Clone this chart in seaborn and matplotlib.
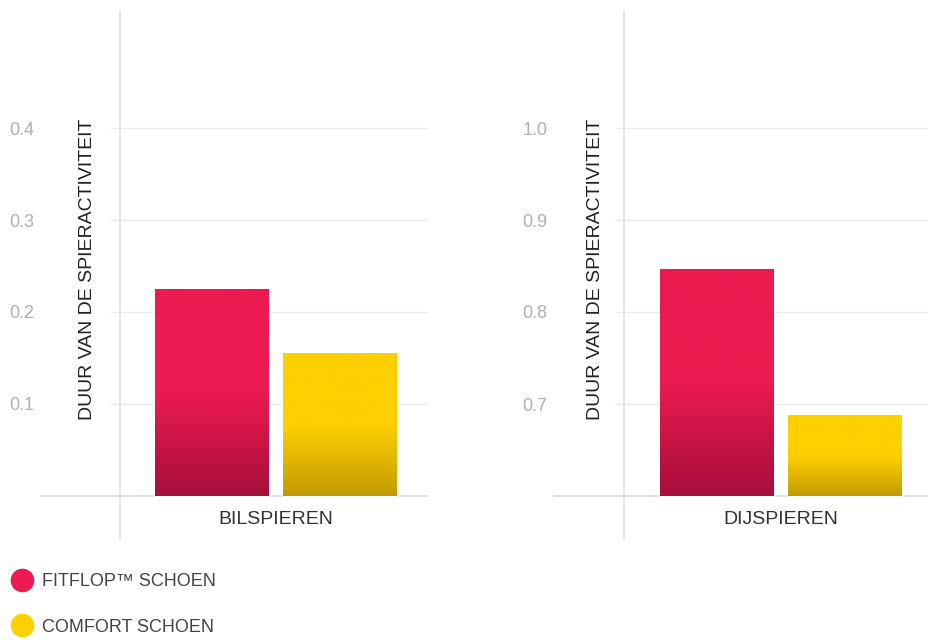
import numpy as np
import pandas as pd
import matplotlib
matplotlib.use("Agg")
import matplotlib.pyplot as plt
import seaborn as sns
from matplotlib.colors import to_rgb
from matplotlib.lines import Line2D

# ---------------- data ----------------
groups = ["BILSPIEREN", "DIJSPIEREN"]
series = ["FITFLOP™ SCHOEN", "COMFORT SCHOEN"]
fitflop_values = [0.225, 0.846]
comfort_values = [0.155, 0.688]
yticks_per_group = [[0.1, 0.2, 0.3, 0.4], [0.7, 0.8, 0.9, 1.0]]
baselines = [0.0, 0.6]
ylabel_text = "DUUR VAN DE SPIERACTIVITEIT"

# ---------------- style ----------------
colors = ["#EC1A50", "#FDD000"]
dark_colors = ["#A50F3C", "#C39B00"]

sns.set_theme(style="white")
plt.rcParams["font.family"] = ["Liberation Sans", "DejaVu Sans"]

W, H = 930, 640
fig = plt.figure(figsize=(W / 100, H / 100), dpi=100)

top_px, bot_px, base_px = 10, 540, 496
step_px = 92.0      # pixels per 0.1
unit_px = 320.0     # pixels per category unit
panels = [
    dict(left=40, right=428, center=276, vline=120, grid_start=110, ylab_x=88),
    dict(left=553, right=928, center=781, vline=624, grid_start=615, ylab_x=595),
]


def gradient_fill(ax, patch, c_top, c_bot, frac=0.5):
    x0, y0 = patch.get_x(), patch.get_y()
    w, h = patch.get_width(), patch.get_height()
    n = 256
    t = np.linspace(0, 1, n)  # 0 = top, 1 = bottom
    s = np.clip((t - (1 - frac)) / frac, 0, 1)
    a = np.array(to_rgb(c_top))
    b = np.array(to_rgb(c_bot))
    img = a[None, :] * (1 - s[:, None]) + b[None, :] * s[:, None]
    ax.imshow(img[:, None, :], extent=[x0, x0 + w, y0, y0 + h], origin="upper",
              aspect="auto", zorder=patch.get_zorder() + 0.1,
              interpolation="bilinear")


for i, p in enumerate(panels):
    base = baselines[i]
    ax = fig.add_axes([p["left"] / W, 1 - bot_px / H,
                       (p["right"] - p["left"]) / W, (bot_px - top_px) / H])
    df = pd.DataFrame({
        "group": [groups[i]] * 2,
        "series": series,
        "value": [fitflop_values[i], comfort_values[i]],
    })
    sns.barplot(data=df, x="group", y="value", hue="series", hue_order=series,
                palette=colors, width=0.8, gap=0.11, ax=ax, legend=False,
                saturation=1, zorder=2)

    xlim = ((p["left"] - p["center"]) / unit_px, (p["right"] - p["center"]) / unit_px)
    ylim = (base - (bot_px - base_px) / step_px * 0.1,
            base + (base_px - top_px) / step_px * 0.1)

    # bars start at the panel baseline, with vertical gradient
    for j, patch in enumerate(ax.patches):
        top = patch.get_y() + patch.get_height()
        patch.set_y(base)
        patch.set_height(top - base)
        gradient_fill(ax, patch, colors[j], dark_colors[j])

    # grid & reference lines
    gx0 = (p["grid_start"] - p["center"]) / unit_px
    ax.hlines(yticks_per_group[i], gx0, xlim[1], color="#ececec", lw=1.0, zorder=0.5)
    ax.axhline(base, color="#dcdcdc", lw=1.2, zorder=0.6)
    ax.axvline((p["vline"] - p["center"]) / unit_px, color="#e0e0e0", lw=1.2, zorder=0.6)

    ax.set_xlim(*xlim)
    ax.set_ylim(*ylim)
    for s in ax.spines.values():
        s.set_visible(False)

    ax.set_yticks(yticks_per_group[i])
    ax.set_yticklabels([f"{v:.1f}" for v in yticks_per_group[i]])
    ax.tick_params(axis="y", length=0, pad=4, labelsize=13, labelcolor="#b0b0b0")
    ax.tick_params(axis="x", length=0, pad=-21, labelsize=14, labelcolor="#333333")

    ax.set_xlabel("")
    ax.set_ylabel(ylabel_text, fontsize=14, color="#222222")
    ax.yaxis.label.set_va("center")
    ax.yaxis.set_label_coords((p["ylab_x"] - p["left"]) / (p["right"] - p["left"]),
                              (bot_px - 269) / (bot_px - top_px))
    ax.set_facecolor("none")

handles = [Line2D([], [], marker="o", ls="", markersize=16,
                  markerfacecolor=c, markeredgecolor=c) for c in colors]
fig.legend(handles=handles, labels=series, loc="center left",
           bbox_to_anchor=(13 / W, 1 - 604.5 / H), frameon=False, fontsize=13,
           labelcolor="#444444", handlelength=1.0, handletextpad=0.6,
           labelspacing=1.57, borderpad=0, borderaxespad=0)

fig.savefig("out.png", dpi=100, facecolor="white")
